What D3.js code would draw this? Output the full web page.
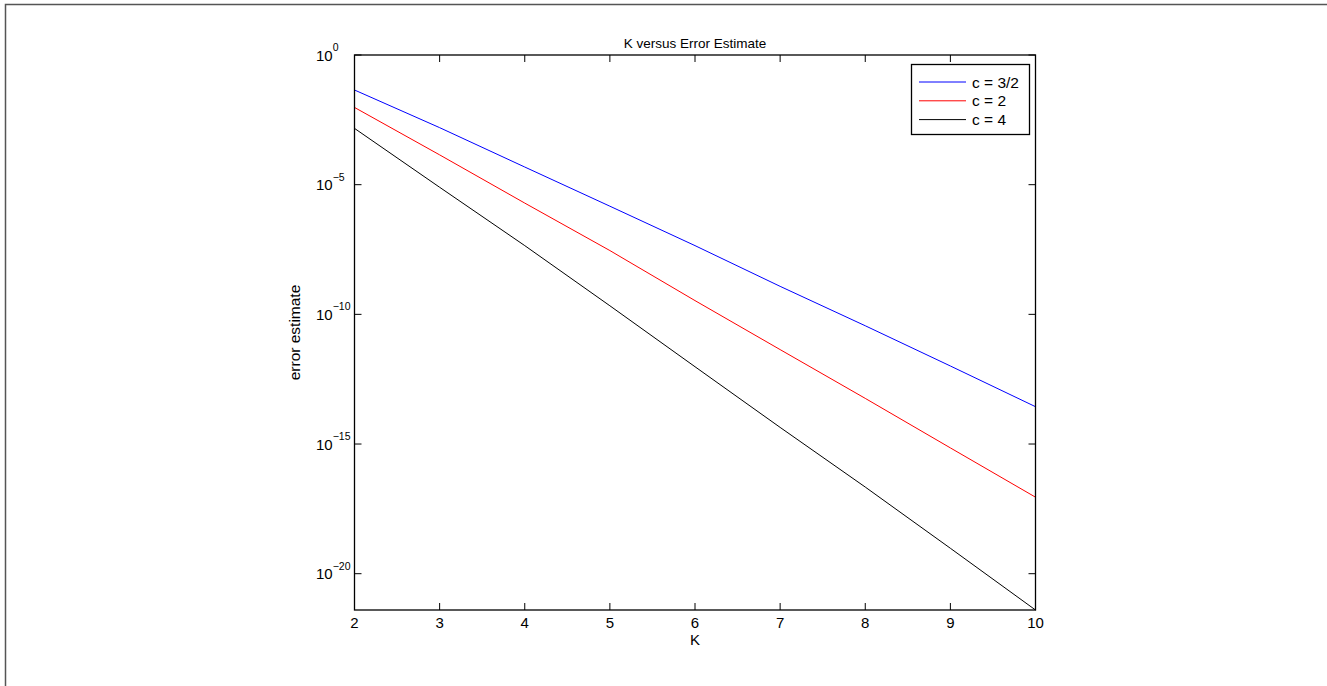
<!DOCTYPE html>
<html><head><meta charset="utf-8">
<script src="https://cdn.jsdelivr.net/npm/d3@7"></script>
<style>
body{margin:0;background:#fff;}
text{font-family:"Liberation Sans",Arial,Helvetica,sans-serif;fill:#000;}
</style></head>
<body>
<svg id="chart" width="1327" height="686"></svg>
<script>
const K = [2,3,4,5,6,7,8,9,10];
const xTicks = [2,3,4,5,6,7,8,9,10];
const yTickExps = [0,-5,-10,-15,-20];
const seriesNames = ["c = 3/2","c = 2","c = 4"];
const seriesColors = ["#0000ff","#ff0000","#000000"];
const errC15 = [4.47e-2,1.58e-3,4.79e-5,1.48e-6,4.47e-8,1.20e-9,3.63e-11,1.02e-12,2.75e-14];
const errC2  = [9.5e-3,1.41e-4,1.95e-6,2.88e-8,3.39e-10,4.37e-12,5.75e-14,7.08e-16,8.91e-18];
const errC4  = [1.48e-3,7.94e-6,4.47e-8,2.14e-10,9.55e-13,4.37e-15,2.19e-17,9.55e-20,3.98e-22];
const series = [errC15, errC2, errC4];

const svg = d3.select("#chart");
const L = 354.5, R = 1035.5, T = 55, B = 610;

// outer frame
svg.append("path").attr("d","M5.5,686 L5.5,4.5 L1327,4.5").attr("fill","none").attr("stroke","#555").attr("stroke-width",1.5);

const x = d3.scaleLinear().domain([2,10]).range([L,R]);
const yMin = d3.min(errC4);
const y = d3.scaleLog().domain([yMin,1]).range([B,T]);

const g = svg.append("g");
const line = d3.line().x((d,i)=>x(K[i])).y(d=>y(d));
series.forEach((s,i)=>{
  g.append("path").datum(s).attr("d",line).attr("fill","none")
   .attr("stroke",seriesColors[i]).attr("stroke-width",1);
});

g.append("rect").attr("x",L).attr("y",T).attr("width",R-L).attr("height",B-T)
 .attr("fill","none").attr("stroke","#000").attr("stroke-width",1.3);

const tl = 7;
xTicks.forEach(t=>{
  const xx = x(t);
  g.append("line").attr("x1",xx).attr("x2",xx).attr("y1",B).attr("y2",B-tl).attr("stroke","#000");
  g.append("line").attr("x1",xx).attr("x2",xx).attr("y1",T).attr("y2",T+tl).attr("stroke","#000");
  g.append("text").attr("x",xx).attr("y",B+18).attr("text-anchor","middle").attr("font-size",15).text(t);
});
yTickExps.forEach(e=>{
  const yy = y(Math.pow(10,e));
  g.append("line").attr("x1",L).attr("x2",L+tl).attr("y1",yy).attr("y2",yy).attr("stroke","#000");
  g.append("line").attr("x1",R).attr("x2",R-tl).attr("y1",yy).attr("y2",yy).attr("stroke","#000");
  const t = g.append("text").attr("x",316).attr("y",yy+5.5).attr("text-anchor","start").attr("font-size",15);
  t.append("tspan").text("10");
  t.append("tspan").attr("dy",-9.5).attr("font-size",10.5).text(e===0?"0":"\u2212"+(-e));
});

svg.append("text").attr("x",(L+R)/2).attr("y",48).attr("text-anchor","middle").attr("font-size",13.5).text("K versus Error Estimate");
svg.append("text").attr("x",(L+R)/2).attr("y",645).attr("text-anchor","middle").attr("font-size",15).text("K");
svg.append("text").attr("transform",`translate(300,${(T+B)/2}) rotate(-90)`).attr("text-anchor","middle").attr("font-size",15.5).text("error estimate");

const lg = svg.append("g");
lg.append("rect").attr("x",911.5).attr("y",64.5).attr("width",118).attr("height",70)
  .attr("fill","#fff").attr("stroke","#000").attr("stroke-width",1.3);
seriesNames.forEach((n,i)=>{
  const yy = 82 + i*18.8;
  lg.append("line").attr("x1",919).attr("x2",966).attr("y1",yy).attr("y2",yy).attr("stroke",seriesColors[i]);
  lg.append("text").attr("x",972).attr("y",yy+5.5).attr("font-size",15.5).text(n);
});
</script>
</body></html>
